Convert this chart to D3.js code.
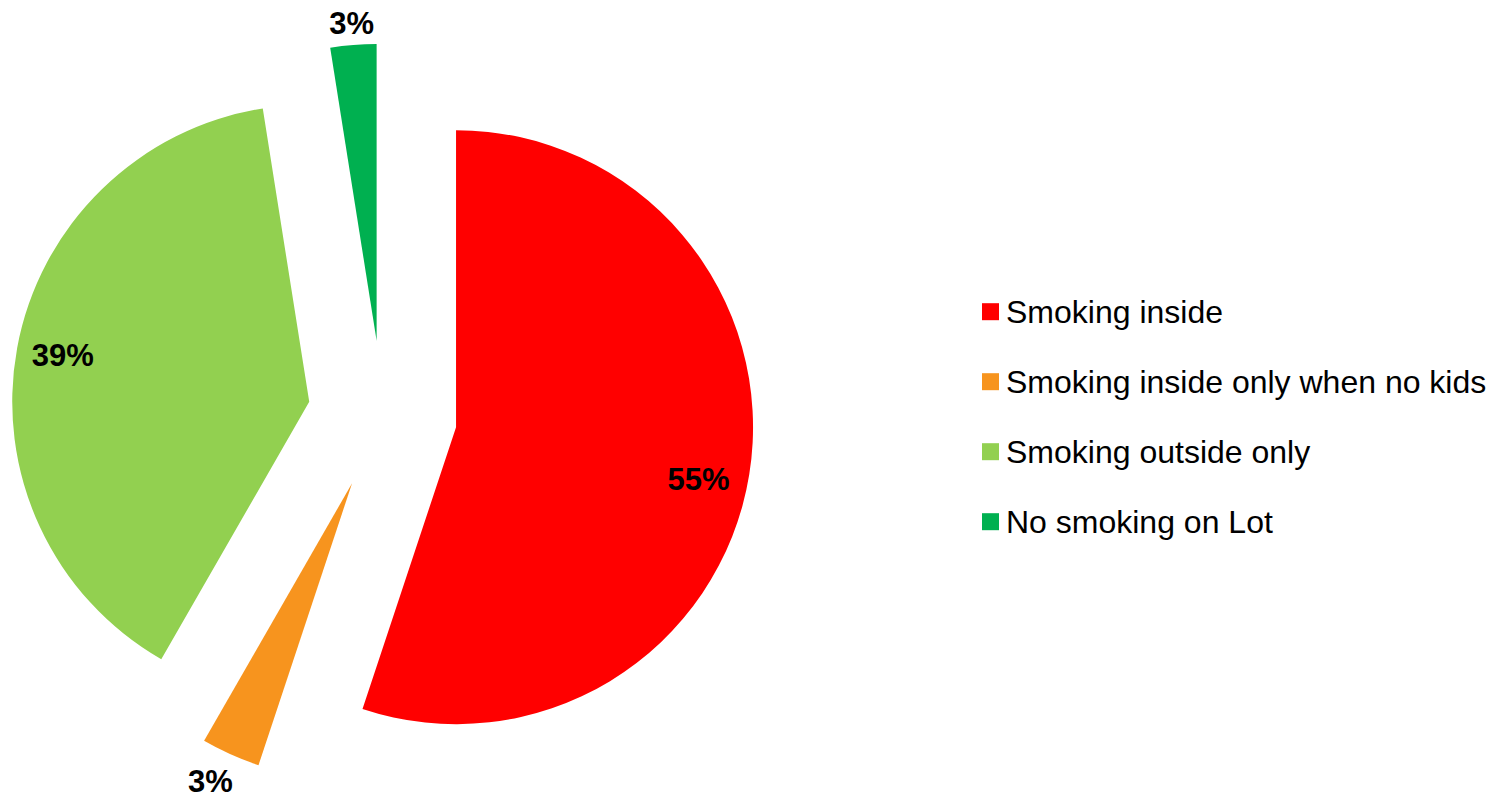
<!DOCTYPE html>
<html>
<head>
<meta charset="utf-8">
<script src="https://cdn.jsdelivr.net/npm/d3@7"></script>
<style>
html,body{margin:0;padding:0;background:#fff;}
svg{display:block;}
</style>
</head>
<body>
<svg id="chart" width="1505" height="798"></svg>
<script>
// ---- data ----
const categories = ["Smoking inside", "Smoking inside only when no kids", "Smoking outside only", "No smoking on Lot"];
const values = [55.1, 3.2, 39.2, 2.5];
const labels = ["55%", "3%", "39%", "3%"];
const colors = ["#FF0000", "#F7941E", "#92D050", "#00B050"];

// ---- layout ----
const cx = 382.5, cy = 415.3, radius = 297, explode = 74.5;
// label placement per slice: distance from slice apex (px) and angle tweak (deg)
const labelDist = [248, 330, 251, 319];
const labelAngleTweak = [2.9, 1.3, 0.35, 0];
const labelFont = 31, legendFont = 32;

const svg = d3.select("#chart");
const pie = d3.pie().sort(null).value(d => d).startAngle(0).endAngle(2 * Math.PI);
const arcs = pie(values);
const arc = d3.arc().innerRadius(0).outerRadius(radius);

const g = svg.append("g").attr("transform", `translate(${cx},${cy})`);

const slices = g.selectAll("g.slice").data(arcs).enter().append("g")
  .attr("class", "slice")
  .attr("transform", d => {
    const m = (d.startAngle + d.endAngle) / 2;
    return `translate(${Math.sin(m) * explode},${-Math.cos(m) * explode})`;
  });

slices.append("path")
  .attr("d", arc)
  .attr("fill", (d, i) => colors[i]);

const capH = labelFont * 0.716;
slices.append("text")
  .attr("x", (d, i) => {
    const m = (d.startAngle + d.endAngle) / 2 + labelAngleTweak[i] * Math.PI / 180;
    return Math.sin(m) * labelDist[i];
  })
  .attr("y", (d, i) => {
    const m = (d.startAngle + d.endAngle) / 2 + labelAngleTweak[i] * Math.PI / 180;
    return -Math.cos(m) * labelDist[i] + capH / 2;
  })
  .attr("text-anchor", "middle")
  .attr("font-family", "'Liberation Sans', Arial, sans-serif")
  .attr("font-weight", "bold")
  .attr("font-size", labelFont)
  .attr("fill", "#000")
  .text((d, i) => labels[i]);

// ---- legend ----
const legend = svg.append("g").attr("transform", "translate(982,311.7)");
const rowH = 70;
const items = legend.selectAll("g").data(categories).enter().append("g")
  .attr("transform", (d, i) => `translate(0,${i * rowH})`);
items.append("rect")
  .attr("x", 0).attr("y", -8.5).attr("width", 17).attr("height", 17)
  .attr("fill", (d, i) => colors[i]);
items.append("text")
  .attr("x", 24).attr("y", 11)
  .attr("font-family", "'Liberation Sans', Arial, sans-serif")
  .attr("font-size", legendFont)
  .attr("fill", "#000")
  .text(d => d);
</script>
</body>
</html>
